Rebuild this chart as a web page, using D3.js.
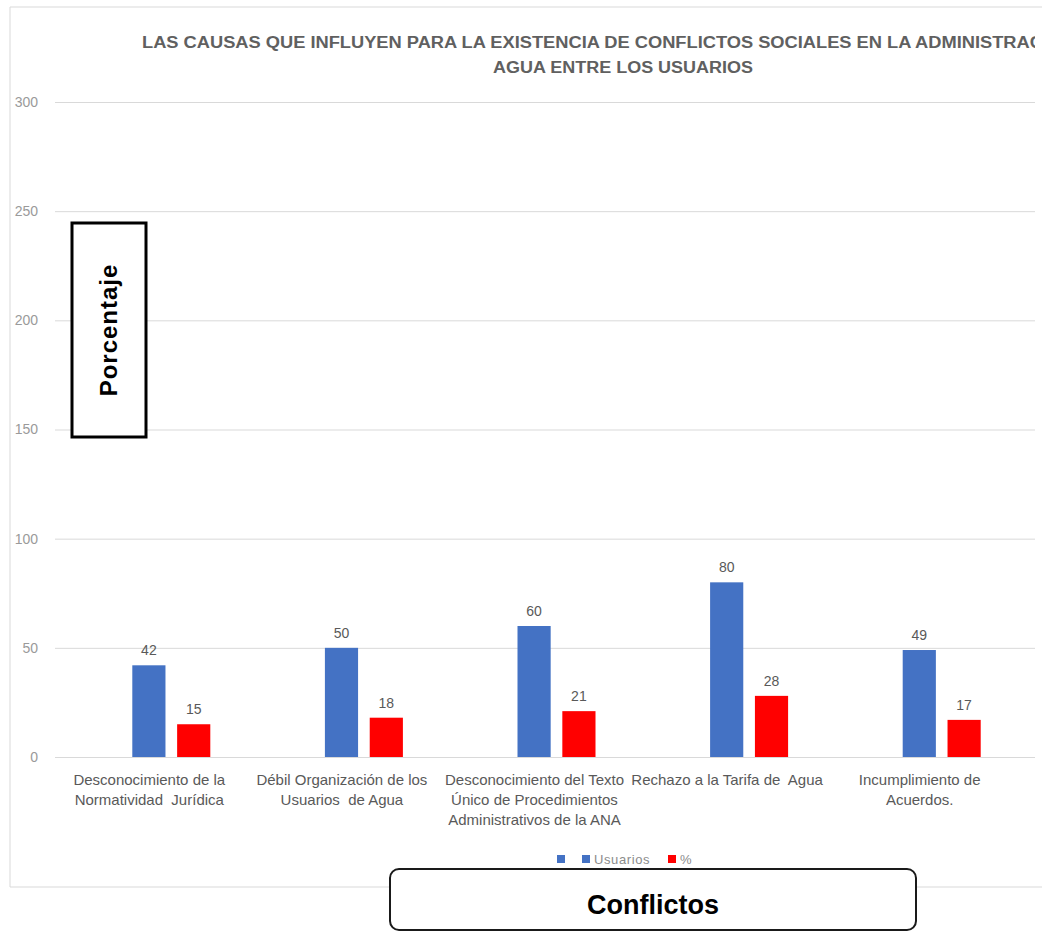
<!DOCTYPE html>
<html>
<head>
<meta charset="utf-8">
<script src="https://cdn.jsdelivr.net/npm/d3@7/dist/d3.min.js"></script>
<style>
  html, body { margin: 0; padding: 0; background: #fff; }
  svg { display: block; }
  text { font-family: "Liberation Sans", Arial, sans-serif; }
</style>
</head>
<body>
<div id="chart"></div>
<script>
// Conflict causes: number of users and percentage
const categories = [
  ["Desconocimiento de la", "Normatividad  Jurídica"],
  ["Débil Organización de los", "Usuarios  de Agua"],
  ["Desconocimiento del Texto", "Único de Procedimientos", "Administrativos de la ANA"],
  ["Rechazo a la Tarifa de  Agua"],
  ["Incumplimiento de", "Acuerdos."]
];
const usuarios = [42, 50, 60, 80, 49];
const porcentaje = [15, 18, 21, 28, 17];
const yTicks = [0, 50, 100, 150, 200, 250, 300];
const seriesNames = ["Usuarios", "%"];
const seriesColors = ["#4472C4", "#FF0000"];
const titleLines = [
  "LAS CAUSAS QUE INFLUYEN PARA LA EXISTENCIA DE CONFLICTOS SOCIALES EN LA ADMINISTRACIÓN DEL",
  "AGUA ENTRE LOS USUARIOS"
];

const W = 1042, H = 932;
const svg = d3.select("#chart").append("svg").attr("width", W).attr("height", H);

svg.append("defs").append("clipPath").attr("id", "areaClip")
  .append("rect").attr("x", 0).attr("y", 0).attr("width", 1035).attr("height", H);

// chart area frame
svg.append("path")
  .attr("d", "M1042,7 H10 V887 H1042")
  .attr("fill", "none").attr("stroke", "#d9d9d9").attr("stroke-width", 1);

const gridLeft = 55, gridRight = 1035;
const y = d3.scaleLinear().domain([0, 300]).range([757, 102]);
const x0 = d3.scaleBand().domain(d3.range(categories.length)).range([75, 1038]);
const x1 = d3.scaleBand().domain([0, 1]).range([0, 78]).paddingInner(0.26);

// title
const title = svg.append("g").attr("clip-path", "url(#areaClip)");
title.append("text")
  .attr("x", 142).attr("y", 48)
  .attr("textLength", 975).attr("lengthAdjust", "spacingAndGlyphs")
  .attr("font-size", 16).attr("font-weight", 600).attr("fill", "#606060")
  .text(titleLines[0]);
title.append("text")
  .attr("x", 623).attr("y", 73).attr("text-anchor", "middle")
  .attr("textLength", 260).attr("lengthAdjust", "spacingAndGlyphs")
  .attr("font-size", 16).attr("font-weight", 600).attr("fill", "#606060")
  .text(titleLines[1]);

// gridlines and y tick labels
const yAxis = d3.axisLeft(y).tickValues(yTicks).tickSize(-(gridRight - gridLeft)).tickPadding(17);
const ga = svg.append("g").attr("transform", `translate(${gridLeft},0)`).call(yAxis);
ga.select(".domain").remove();
ga.selectAll(".tick line").attr("stroke", "#d9d9d9").attr("stroke-width", 1);
ga.selectAll(".tick text").attr("fill", "#9a9a9a").attr("font-size", 14)
  .attr("font-family", "Liberation Sans, Arial, sans-serif");

// bars
const groups = svg.append("g").selectAll("g").data(categories).join("g")
  .attr("transform", (d, i) => `translate(${x0(i) + x0.bandwidth() / 2 - 39},0)`);

const seriesData = [usuarios, porcentaje];
groups.each(function (d, i) {
  const g = d3.select(this);
  seriesData.forEach((vals, s) => {
    const v = vals[i];
    g.append("rect")
      .attr("x", x1(s)).attr("y", y(v))
      .attr("width", x1.bandwidth()).attr("height", y(0) - y(v))
      .attr("fill", seriesColors[s]);
    g.append("text")
      .attr("x", x1(s) + x1.bandwidth() / 2).attr("y", y(v) - 10)
      .attr("text-anchor", "middle").attr("font-size", 14).attr("fill", "#595959")
      .text(v);
  });
});

// category labels
const labels = svg.append("g");
categories.forEach((lines, i) => {
  const cx = x0(i) + x0.bandwidth() / 2 - 22;
  const t = labels.append("text").attr("text-anchor", "middle")
    .attr("font-size", 15).attr("fill", "#595959").attr("xml:space", "preserve");
  lines.forEach((ln, k) => {
    t.append("tspan").attr("x", cx).attr("y", 785 + k * 20).text(ln);
  });
});

// legend
const legend = svg.append("g").attr("font-size", 13).attr("fill", "#8c8c8c");
legend.append("rect").attr("x", 557).attr("y", 855).attr("width", 8).attr("height", 8).attr("fill", seriesColors[0]);
let lx = 582;
seriesNames.forEach((name, s) => {
  legend.append("rect").attr("x", lx).attr("y", 855).attr("width", 8).attr("height", 8).attr("fill", seriesColors[s]);
  legend.append("text").attr("x", lx + 12).attr("y", 864).attr("fill", "#8c8c8c")
    .attr("letter-spacing", 0.6).text(name);
  lx += 86;
});

// y-axis title box
svg.append("rect").attr("x", 72).attr("y", 223).attr("width", 74).attr("height", 214)
  .attr("fill", "#fff").attr("stroke", "#000").attr("stroke-width", 3);
svg.append("text")
  .attr("transform", "translate(117,330) rotate(-90)")
  .attr("text-anchor", "middle").attr("font-size", 24).attr("font-weight", "bold")
  .attr("letter-spacing", 1).attr("fill", "#000").text("Porcentaje");

// x-axis title box
svg.append("rect").attr("x", 390).attr("y", 869).attr("width", 526).attr("height", 61)
  .attr("rx", 9).attr("fill", "#fff").attr("stroke", "#1a1a1a").attr("stroke-width", 2);
svg.append("text")
  .attr("x", 653).attr("y", 914).attr("text-anchor", "middle")
  .attr("font-size", 27).attr("font-weight", "bold").attr("fill", "#000").text("Conflictos");
</script>
</body>
</html>
